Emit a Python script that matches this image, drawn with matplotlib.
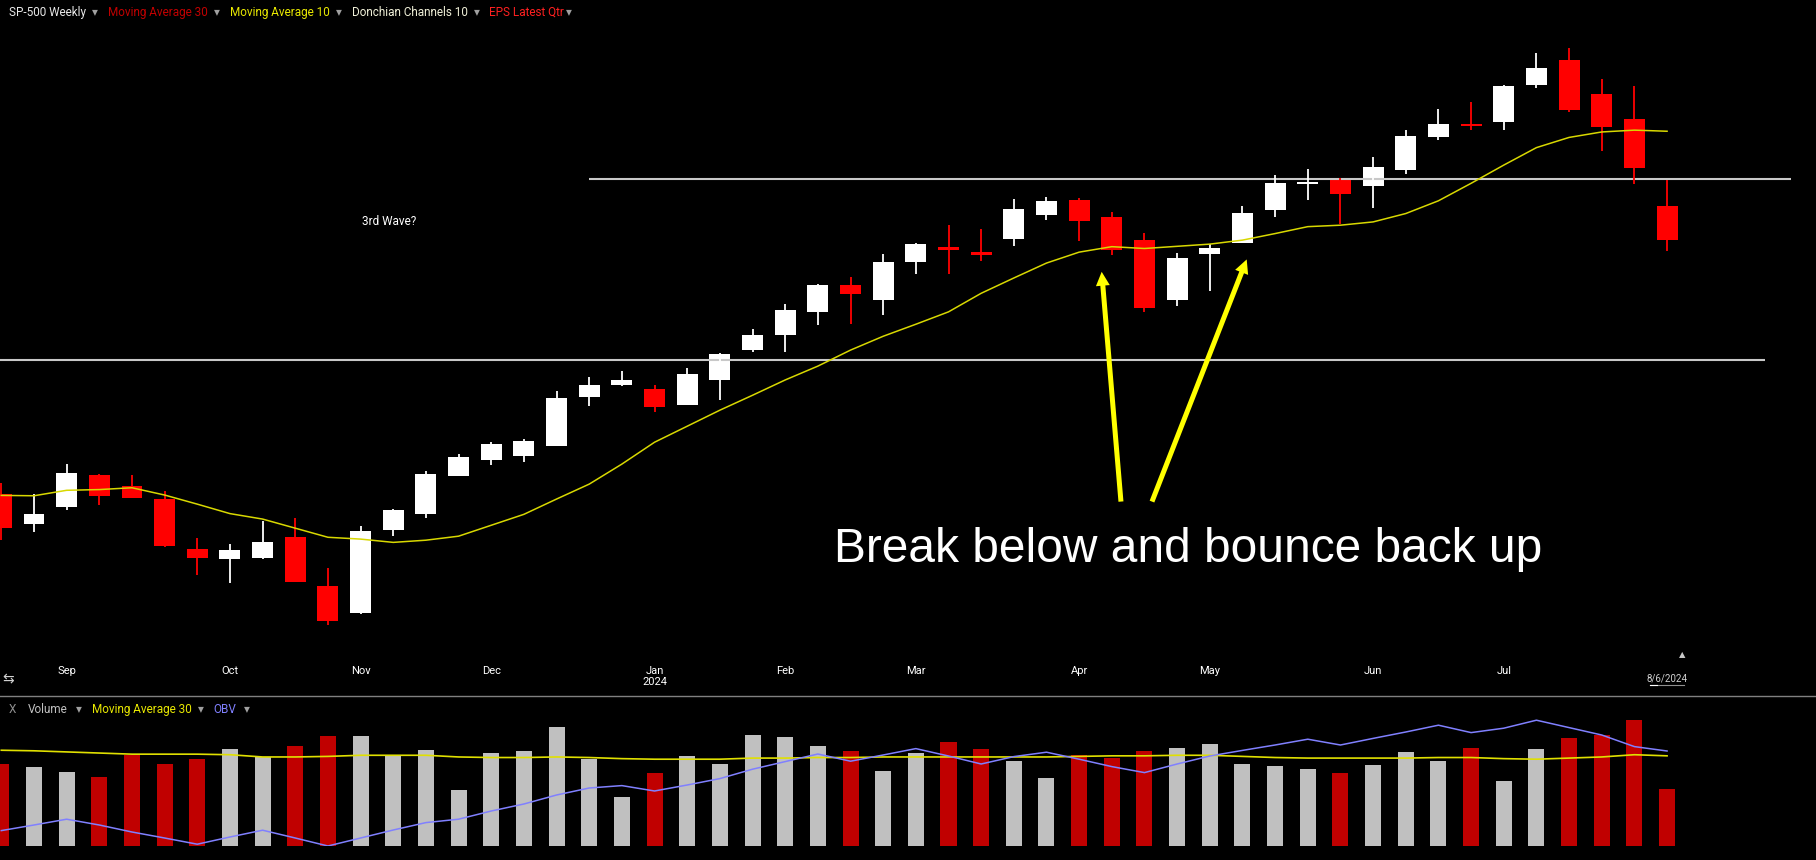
import numpy as np
import matplotlib.pyplot as plt
from matplotlib.lines import Line2D
from matplotlib.transforms import blended_transform_factory

plt.rcParams['font.family'] = ['Roboto', 'DejaVu Sans']

# weekly SP-500 candles, Aug 2023 - Aug 2024 (index = week number)
opens = [4446, 4364, 4411, 4498, 4467, 4432, 4294, 4268, 4271, 4327, 4193, 4120, 4347,
         4391, 4496, 4540, 4551, 4578, 4713, 4746, 4734, 4691, 4759, 4842, 4883, 4946,
         5019, 4979, 5083, 5124, 5110, 5146, 5212, 5253, 5206, 5143, 4979, 5105, 5135,
         5226, 5297, 5312, 5292, 5336, 5427, 5459, 5468, 5569, 5637, 5544, 5475, 5236]
highs = [4475, 4446, 4528, 4500, 4498, 4454, 4325, 4308, 4372, 4380, 4242, 4358, 4404,
         4509, 4555, 4588, 4597, 4728, 4767, 4783, 4745, 4792, 4833, 4899, 4967, 5022,
         5041, 5104, 5135, 5184, 5173, 5255, 5261, 5258, 5220, 5162, 5107, 5132, 5236,
         5321, 5338, 5313, 5371, 5445, 5503, 5522, 5569, 5656, 5670, 5585, 5566, 5308]
lows = [4320, 4342, 4402, 4416, 4434, 4301, 4224, 4202, 4268, 4204, 4087, 4117, 4331,
        4380, 4494, 4526, 4534, 4577, 4688, 4743, 4671, 4690, 4704, 4836, 4836, 4910,
        4913, 4938, 5050, 5050, 5086, 5127, 5199, 5141, 5103, 4946, 4962, 5004, 5134,
        5207, 5254, 5188, 5232, 5325, 5418, 5446, 5446, 5561, 5495, 5388, 5298, 5114]
closes = [4353, 4391, 4503, 4441, 4435, 4303, 4271, 4292, 4314, 4205, 4098, 4344, 4402,
          4500, 4547, 4583, 4591, 4709, 4745, 4758, 4685, 4775, 4830, 4882, 4951, 5019,
          4995, 5082, 5132, 5116, 5103, 5228, 5250, 5196, 5116, 4957, 5093, 5121, 5217,
          5299, 5302, 5270, 5343, 5428, 5461, 5457, 5566, 5615, 5501, 5454, 5341, 5144]
ma10 = [4442, 4441, 4456, 4458, 4463, 4443, 4418, 4392, 4377, 4352, 4327, 4322, 4313,
        4319, 4330, 4360, 4390, 4432, 4473, 4528, 4588, 4632, 4676, 4717, 4759, 4797,
        4841, 4879, 4912, 4946, 4997, 5039, 5080, 5110, 5125, 5120, 5126, 5132, 5143,
        5161, 5180, 5184, 5193, 5216, 5251, 5299, 5349, 5397, 5425, 5440, 5445, 5442]

# volume (billions), its 30 week average and on-balance volume
volume = [14.6, 14.1, 13.2, 12.3, 16.3, 14.6, 15.5, 17.3, 15.9, 17.9, 19.6, 19.6, 16.1,
          17.1, 10.0, 16.6, 17.0, 21.2, 15.5, 8.8, 13.0, 16.1, 14.6, 19.8, 19.5, 17.9,
          17.0, 13.4, 16.6, 18.6, 17.3, 15.2, 12.1, 16.2, 15.7, 17.0, 17.5, 18.2, 14.6,
          14.3, 13.8, 13.0, 14.5, 16.8, 15.2, 17.5, 11.6, 17.3, 19.3, 19.8, 22.5, 10.2]
vol_ma30 = [17.1, 17.0, 16.8, 16.6, 16.4, 16.4, 16.4, 16.3, 15.9, 15.9, 16.0, 16.2, 16.2,
            16.2, 15.9, 15.8, 15.8, 15.9, 15.8, 15.6, 15.5, 15.5, 15.5, 15.7, 15.7, 15.8,
            15.8, 15.9, 15.9, 15.9, 15.9, 15.9, 15.9, 16.0, 16.1, 16.1, 16.2, 16.2, 16.0,
            15.8, 15.7, 15.7, 15.7, 15.7, 15.8, 15.8, 15.6, 15.5, 15.7, 15.9, 16.3, 16.1]
obv = [7.7, 10.5, 13.4, 10.5, 7.0, 4.0, 0.9, 4.5, 7.9, 4.0, 0.0, 4.0, 8.0,
       11.7, 13.4, 17.5, 21.0, 25.5, 29.0, 30.2, 27.5, 30.5, 33.7, 38.4, 42.2, 46.0,
       42.4, 45.5, 48.7, 45.0, 41.0, 44.7, 46.9, 43.4, 39.7, 36.7, 41.0, 45.0, 47.8,
       50.5, 53.4, 50.5, 53.8, 57.0, 60.4, 56.7, 58.9, 62.9, 59.2, 55.5, 49.7, 47.5]

tick_pos = [2, 7, 11, 15, 20, 24, 28, 33, 37, 42, 46]
tick_labels = ['Sep', 'Oct', 'Nov', 'Dec', 'Jan\n2024', 'Feb', 'Mar', 'Apr', 'May', 'Jun', 'Jul']

support = 4815
resistance = 5310

x = np.arange(len(opens))
o = np.array(opens)
c = np.array(closes)
up = c >= o
cols = np.where(up, '#ffffff', '#ff0000')

fig = plt.figure(figsize=(18.16, 8.6), dpi=100, facecolor='black')

def px(xp, yp):
    return xp / 1816, 1 - yp / 860

# ---- price panel
ax = fig.add_axes([0, 200 / 860, 1, 630 / 860])
ax.set_facecolor('black')
ax.set_xlim(-0.04, 55.56)
ax.set_ylim(3990, 5720)

ax.hlines(support, -0.04, 54.0, color='#c8c8c8', lw=1.5)
ax.hlines(resistance, 18.0, 54.8, color='#c8c8c8', lw=1.5)

ax.vlines(x, lows, highs, color=cols, lw=1.3)
body = np.maximum(np.abs(c - o), 4)
ax.bar(x, body, bottom=np.minimum(o, c), width=0.64, color=cols, linewidth=0)
ax.plot(x, ma10, color='#d8d800', lw=1.1)

ax.text(11.87, 5185, '3rd Wave?', color='white', fontsize=8.5, ha='center', va='baseline')
ax.text(36.33, 4258, 'Break below and bounce back up', color='white', fontsize=34.5,
        family='Liberation Sans', ha='center', va='baseline')

arrow = dict(arrowstyle='simple,head_length=1.0,head_width=1.0,tail_width=0.36',
             fc='#ffff00', ec='none', lw=0, mutation_scale=10, shrinkA=0, shrinkB=0)
ax.annotate('', xy=(33.69, 5056), xytext=(34.28, 4425), arrowprops=arrow)
ax.annotate('', xy=(38.13, 5090), xytext=(35.23, 4425), arrowprops=arrow)

ax.set_xticks(tick_pos, tick_labels)
ax.tick_params(axis='x', length=0, pad=4, labelsize=8, colors='white')
ax.tick_params(axis='y', left=False, labelleft=False)
for s in ax.spines.values():
    s.set_visible(False)

tr = blended_transform_factory(ax.transData, ax.transAxes)
ax.text(51.0, -0.0286, '8/6/2024', transform=tr, color='#d0d0d0', fontsize=7,
        ha='center', va='center')
ax.add_line(Line2D([50.47, 51.53], [-0.04, -0.04], transform=tr, color='#909090', lw=0.8,
                   clip_on=False))
ax.add_line(Line2D([50.47, 50.7], [-0.04, -0.04], transform=tr, color='white', lw=0.8,
                   clip_on=False))
ax.text(51.45, 0.008, '▲', transform=tr, color='#c8c8c8', fontsize=6,
        family='DejaVu Sans', ha='center', va='center')

# ---- volume panel
axv = fig.add_axes([0, 14 / 860, 1, 140 / 860])
axv.set_facecolor('none')
axv.set_xlim(-0.04, 55.56)
axv.set_ylim(0, 25)
vcols = np.where(up, '#c0c0c0', '#c00000')
axv.bar(x, volume, width=0.49, color=vcols, linewidth=0)
axv.plot(x, vol_ma30, color='#e0e000', lw=1.2)
axo = axv.twinx()
axo.set_ylim(0, 70)
axo.plot(x, obv, color='#8080ff', lw=1.1)
for a in (axv, axo):
    a.set_xticks([])
    a.set_yticks([])
    for s in a.spines.values():
        s.set_visible(False)

fig.add_artist(Line2D([0, 1], [1 - 696 / 860] * 2, transform=fig.transFigure,
                      color='#808080', lw=1))

# ---- header texts
def label(xp, yp, s, color, size=8.5):
    fig.text(*px(xp, yp), s, color=color, fontsize=size, ha='left', va='center')

label(8.7, 12.5, 'SP-500 Weekly', '#e8e8e8')
label(92, 12, '▾', '#a0a0a0')
label(107.5, 12.5, 'Moving Average 30', '#c00000')
label(214, 12, '▾', '#a0a0a0')
label(230, 12.5, 'Moving Average 10', '#e8e800')
label(336, 12, '▾', '#a0a0a0')
label(351.8, 12.5, 'Donchian Channels 10', '#f0f0d8')
label(473.5, 12, '▾', '#a0a0a0')
label(488.5, 12.5, 'EPS Latest Qtr', '#ff2020')
label(566, 12, '▾', '#a0a0a0')

label(8.5, 709.5, 'X', '#909090')
label(27.7, 709.5, 'Volume', '#c0c0c0')
label(76, 709, '▾', '#a0a0a0')
label(91.5, 709.5, 'Moving Average 30', '#e8e800')
label(198, 709, '▾', '#a0a0a0')
label(213, 709.5, 'OBV', '#8080ff')
label(244, 709, '▾', '#a0a0a0')

label(2, 679, '⇆', '#d0d0d0', size=10)

fig.savefig('out.png', dpi=100, facecolor='black')
